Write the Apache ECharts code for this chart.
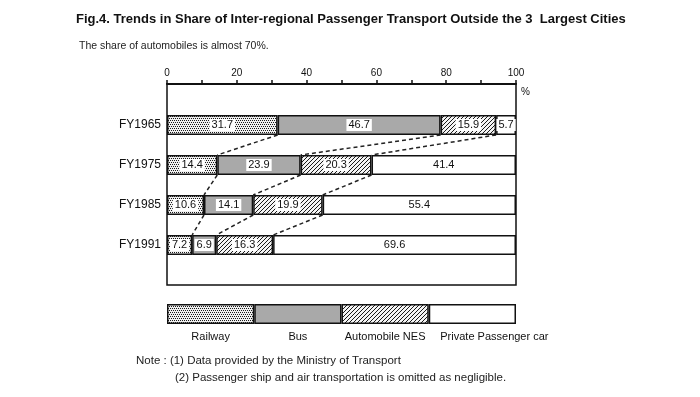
<!DOCTYPE html>
<html><head><meta charset="utf-8">
<script src="https://cdn.jsdelivr.net/npm/echarts@6/dist/echarts.min.js"></script>
<style>html,body{margin:0;padding:0;background:#fff}#c{width:700px;height:397px}</style>
</head><body><div id="c"></div>
<script>
// ---- data ----
const years = ['FY1965', 'FY1975', 'FY1985', 'FY1991'];
const modes = ['Railway', 'Bus', 'Automobile NES', 'Private Passenger car'];
const railway = [31.7, 14.4, 10.6, 7.2];
const bus = [46.7, 23.9, 14.1, 6.9];
const automobileNES = [15.9, 20.3, 19.9, 16.3];
const privateCar = [5.7, 41.4, 55.4, 69.6];
const xTicks = [0, 20, 40, 60, 80, 100];
const legendSwatch = [1, 1, 1, 1];
const titleText = 'Fig.4. Trends in Share of Inter-regional Passenger Transport Outside the 3  Largest Cities';
const subText = 'The share of automobiles is almost 70%.';
const notes = ['Note : (1) Data provided by the Ministry of Transport',
               '(2) Passenger ship and air transportation is omitted as negligible.'];

// ---- patterns ----
function makePattern(kind) {
  const c = document.createElement('canvas');
  const s = 4;
  c.width = s; c.height = s;
  const g = c.getContext('2d');
  if (kind === 'dots') {
    g.fillStyle = '#f0f0f0'; g.fillRect(0, 0, s, s);
    g.fillStyle = '#1a1a1a';
    g.fillRect(0, 0, 1, 1); g.fillRect(2, 0, 1, 1);
    g.fillRect(1, 2, 1, 1); g.fillRect(3, 2, 1, 1);
  } else if (kind === 'hatch') {
    g.fillStyle = '#f4f4f4'; g.fillRect(0, 0, s, s);
    g.fillStyle = '#1a1a1a';
    for (let i = 0; i < s; i++) g.fillRect(i, s - 1 - i, 1, 1);
  }
  return { image: c, repeat: 'repeat' };
}
const fills = [makePattern('dots'), '#a9a9a9', makePattern('hatch'), '#ffffff'];
const seriesValues = [railway, bus, automobileNES, privateCar];
const FONT = 'Liberation Sans';

// ---- connectors (cumulative boundaries between consecutive years) ----
const cum = years.map((_, i) => {
  let s = 0; return seriesValues.map(v => (s += v[i], +s.toFixed(1)));
});
const halfBar = 0.25; // half bar thickness in band units
const connectorSeries = [];
for (let i = 0; i < years.length - 1; i++) {
  for (let k = 0; k < 3; k++) {
    connectorSeries.push({
      type: 'line', xAxisIndex: 1, yAxisIndex: 2, symbol: 'none', silent: true,
      data: [[cum[i][k], i + 0.5 + halfBar], [cum[i + 1][k], i + 1.5 - halfBar]],
      lineStyle: { color: '#222', width: 1.5, type: [4, 3] }, z: 1
    });
  }
}

const barSeries = modes.map((m, k) => ({
  name: m, type: 'bar', stack: 'share', xAxisIndex: 1, yAxisIndex: 1,
  barWidth: 20, data: seriesValues[k],
  itemStyle: { color: fills[k], borderColor: '#111', borderWidth: 1.5 },
  label: {
    show: true, position: 'inside', color: '#111', fontSize: 11, fontFamily: FONT,
    backgroundColor: '#fff', padding: [1, 2, 0, 2],
    formatter: p => p.value.toFixed(1)
  }, z: 3
}));

const legendSeries = modes.map((m, k) => ({
  name: m, type: 'bar', stack: 'legend', xAxisIndex: 2, yAxisIndex: 3,
  barWidth: 20, data: [legendSwatch[k]], silent: true,
  itemStyle: { color: fills[k], borderColor: '#111', borderWidth: 1.5 },
  label: {
    show: true, position: 'bottom', distance: 7, color: '#111', fontSize: 11,
    fontFamily: FONT, formatter: m, offset: k === 3 ? [22, 0] : [0, 0]
  }
}));

const chart = echarts.init(document.getElementById('c'));
chart.setOption({
  backgroundColor: '#fff',
  animation: false,
  title: [
    { text: titleText, left: 71, top: 8,
      textStyle: { fontSize: 13, fontWeight: 'bold', color: '#111', fontFamily: FONT } },
    { text: subText, left: 74, top: 36,
      textStyle: { fontSize: 10.5, fontWeight: 'normal', color: '#222', fontFamily: FONT } }
  ],
  grid: [
    { left: 167, top: 84, width: 349, height: 201, show: true, borderColor: '#111', borderWidth: 1.5 },
    { left: 167, top: 105, width: 349, height: 160 },
    { left: 167, top: 304, width: 349, height: 20 }
  ],
  xAxis: [
    { type: 'value', gridIndex: 0, min: xTicks[0], max: xTicks[xTicks.length - 1], interval: 20,
      position: 'top',
      axisLine: { show: true, onZero: false, lineStyle: { color: '#111', width: 2 } },
      axisTick: { show: true, length: 4, lineStyle: { color: '#111', width: 1.5 } },
      minorTick: { show: true, splitNumber: 2, length: 4, lineStyle: { color: '#111', width: 1.5 } },
      splitLine: { show: false },
      axisLabel: { color: '#111', fontSize: 10, fontFamily: FONT, margin: 6 },
      name: '%', nameLocation: 'end', nameGap: 5,
      nameTextStyle: { color: '#111', fontSize: 10, fontFamily: FONT, verticalAlign: 'top', padding: [3, 0, 0, 0] } },
    { type: 'value', gridIndex: 1, min: 0, max: 100, show: false },
    { type: 'value', gridIndex: 2, min: 0, max: 4, show: false }
  ],
  yAxis: [
    { type: 'value', gridIndex: 0, show: false },
    { type: 'category', gridIndex: 1, data: years, inverse: true,
      axisLine: { show: false }, axisTick: { show: false },
      axisLabel: { color: '#111', fontSize: 12, fontFamily: FONT, margin: 6 } },
    { type: 'value', gridIndex: 1, min: 0, max: 4, inverse: true, show: false },
    { type: 'category', gridIndex: 2, data: [''], show: false }
  ],
  graphic: [
    { type: 'text', left: 136, top: 355,
      style: { text: notes[0], fontSize: 11.5, fontFamily: FONT, fill: '#222' } },
    { type: 'text', left: 175, top: 372,
      style: { text: notes[1], fontSize: 11.5, fontFamily: FONT, fill: '#222' } }
  ],
  series: [...connectorSeries, ...barSeries, ...legendSeries]
});
</script></body></html>
